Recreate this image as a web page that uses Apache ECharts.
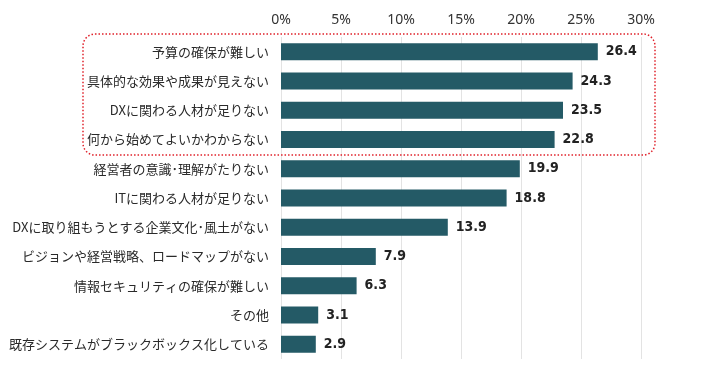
<!DOCTYPE html>
<html>
<head>
<meta charset="utf-8">
<script src="https://cdn.jsdelivr.net/npm/echarts@6/dist/echarts.min.js"></script>
<style>
  html, body { margin: 0; padding: 0; background: #fff; }
  #chart { width: 703px; height: 377px; }
</style>
</head>
<body>
<div id="chart"></div>
<script>
// 課題の項目（上から順）
const categories = [
    '予算の確保が難しい',
    '具体的な効果や成果が見えない',
    'DXに関わる人材が足りない',
    '何から始めてよいかわからない',
    '経営者の意識･理解がたりない',
    'ITに関わる人材が足りない',
    'DXに取り組もうとする企業文化･風土がない',
    'ビジョンや経営戦略、ロードマップがない',
    '情報セキュリティの確保が難しい',
    'その他',
    '既存システムがブラックボックス化している'
];
const values = [26.4, 24.3, 23.5, 22.8, 19.9, 18.8, 13.9, 7.9, 6.3, 3.1, 2.9];
const highlightCount = 4;

const chart = echarts.init(document.getElementById('chart'));
chart.setOption({
    animation: false,
    grid: { left: 281, right: 62, top: 37, bottom: 18 },
    xAxis: {
        type: 'value',
        position: 'top',
        min: 0,
        max: 30,
        interval: 5,
        axisLine: { show: false },
        axisTick: { show: false },
        axisLabel: {
            formatter: '{value}%',
            color: '#333',
            fontSize: 14,
            fontFamily: 'Noto Sans',
            margin: 10
        },
        splitLine: { lineStyle: { color: '#e3e3e3' } }
    },
    yAxis: {
        type: 'category',
        inverse: true,
        data: categories,
        axisLine: { show: false },
        axisTick: { show: false },
        axisLabel: {
            color: '#2a2a2a',
            fontSize: 13,
            fontFamily: 'Noto Sans CJK JP',
            margin: 12
        }
    },
    series: [{
        type: 'bar',
        data: values,
        barWidth: 17,
        itemStyle: { color: '#245a66' },
        label: {
            show: true,
            position: 'right',
            distance: 8,
            formatter: p => p.value.toFixed(1),
            color: '#222',
            fontSize: 14,
            fontWeight: 'bold',
            fontFamily: 'DejaVu Sans Condensed'
        }
    }]
});

// 上位4項目を囲む赤い点線枠
const firstY = chart.convertToPixel({ yAxisIndex: 0 }, categories[0]);
const lastY = chart.convertToPixel({ yAxisIndex: 0 }, categories[highlightCount - 1]);
const step = chart.convertToPixel({ yAxisIndex: 0 }, categories[1]) - firstY;
const boxY0 = firstY - step / 2 - 3;
const boxY1 = lastY + step / 2 + 1;
chart.setOption({
    graphic: [{
        type: 'rect',
        shape: { x: 83, y: boxY0, width: 572, height: boxY1 - boxY0, r: 12 },
        style: { fill: 'none', stroke: '#e0202a', lineWidth: 1.5, lineDash: [1.5, 2] },
        silent: true
    }]
});
</script>
</body>
</html>
